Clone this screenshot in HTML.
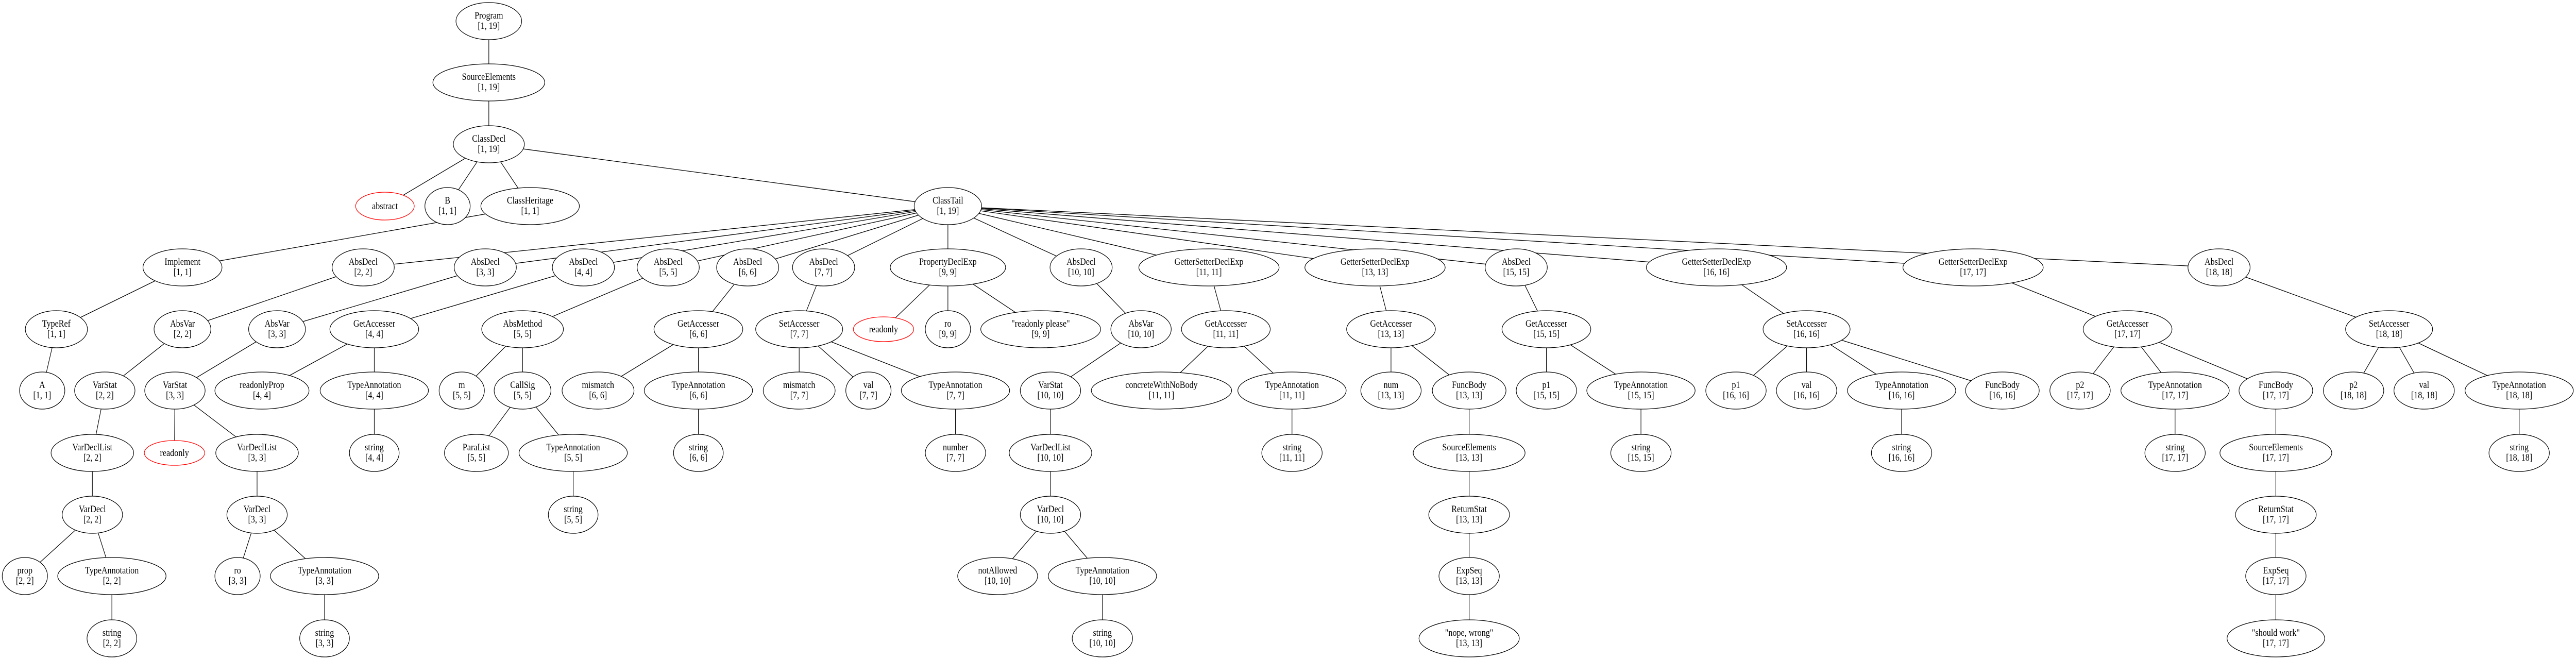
<!DOCTYPE html>
<html><head><meta charset="utf-8"><style>
html,body{margin:0;padding:0;background:#fff;width:100%;height:100%;overflow:hidden}
svg{display:block;position:absolute;left:0;top:0;width:100vw;height:100vh}
text{font-family:"Liberation Serif",serif;font-size:18.67px;text-anchor:middle;fill:#000}
ellipse{fill:#fff;stroke:#000;stroke-width:1.3}
ellipse.r{stroke:#f00}
line{stroke:#000;stroke-width:1.3}
</style></head><body>
<svg viewBox="0 0 5802 1279" preserveAspectRatio="none" xmlns="http://www.w3.org/2000/svg">
<g>
<line x1="1101" y1="41" x2="1101" y2="160"/>
<line x1="1101" y1="160" x2="1101" y2="280"/>
<line x1="1101" y1="280" x2="867" y2="400"/>
<line x1="1101" y1="280" x2="1008" y2="400"/>
<line x1="1101" y1="280" x2="1194" y2="400"/>
<line x1="1101" y1="280" x2="2135" y2="400"/>
<line x1="1194" y1="400" x2="411" y2="519"/>
<line x1="411" y1="519" x2="127" y2="639"/>
<line x1="127" y1="639" x2="95" y2="758"/>
<line x1="2135" y1="400" x2="818" y2="519"/>
<line x1="2135" y1="400" x2="1093" y2="519"/>
<line x1="2135" y1="400" x2="1314" y2="519"/>
<line x1="2135" y1="400" x2="1505" y2="519"/>
<line x1="2135" y1="400" x2="1684" y2="519"/>
<line x1="2135" y1="400" x2="1855" y2="519"/>
<line x1="2135" y1="400" x2="2135" y2="519"/>
<line x1="2135" y1="400" x2="2435" y2="519"/>
<line x1="2135" y1="400" x2="2723" y2="519"/>
<line x1="2135" y1="400" x2="3097" y2="519"/>
<line x1="2135" y1="400" x2="3415" y2="519"/>
<line x1="2135" y1="400" x2="3866" y2="519"/>
<line x1="2135" y1="400" x2="4444" y2="519"/>
<line x1="2135" y1="400" x2="4998" y2="519"/>
<line x1="818" y1="519" x2="411" y2="639"/>
<line x1="411" y1="639" x2="236" y2="758"/>
<line x1="236" y1="758" x2="208" y2="879"/>
<line x1="208" y1="879" x2="208" y2="999"/>
<line x1="208" y1="999" x2="56" y2="1118"/>
<line x1="208" y1="999" x2="252" y2="1118"/>
<line x1="252" y1="1118" x2="252" y2="1239"/>
<line x1="1093" y1="519" x2="624" y2="639"/>
<line x1="624" y1="639" x2="394" y2="758"/>
<line x1="394" y1="758" x2="393" y2="879"/>
<line x1="394" y1="758" x2="579" y2="879"/>
<line x1="579" y1="879" x2="579" y2="999"/>
<line x1="579" y1="999" x2="535" y2="1118"/>
<line x1="579" y1="999" x2="731" y2="1118"/>
<line x1="731" y1="1118" x2="731" y2="1239"/>
<line x1="1314" y1="519" x2="843" y2="639"/>
<line x1="843" y1="639" x2="590" y2="758"/>
<line x1="843" y1="639" x2="843" y2="758"/>
<line x1="843" y1="758" x2="843" y2="879"/>
<line x1="1505" y1="519" x2="1177" y2="639"/>
<line x1="1177" y1="639" x2="1040" y2="758"/>
<line x1="1177" y1="639" x2="1177" y2="758"/>
<line x1="1177" y1="758" x2="1073" y2="879"/>
<line x1="1177" y1="758" x2="1291" y2="879"/>
<line x1="1291" y1="879" x2="1291" y2="999"/>
<line x1="1684" y1="519" x2="1573" y2="639"/>
<line x1="1573" y1="639" x2="1347" y2="758"/>
<line x1="1573" y1="639" x2="1573" y2="758"/>
<line x1="1573" y1="758" x2="1573" y2="879"/>
<line x1="1855" y1="519" x2="1800" y2="639"/>
<line x1="1800" y1="639" x2="1800" y2="758"/>
<line x1="1800" y1="639" x2="1956" y2="758"/>
<line x1="1800" y1="639" x2="2152" y2="758"/>
<line x1="2152" y1="758" x2="2152" y2="879"/>
<line x1="2135" y1="519" x2="1990" y2="639"/>
<line x1="2135" y1="519" x2="2135" y2="639"/>
<line x1="2135" y1="519" x2="2344" y2="639"/>
<line x1="2435" y1="519" x2="2570" y2="639"/>
<line x1="2570" y1="639" x2="2366" y2="758"/>
<line x1="2366" y1="758" x2="2366" y2="879"/>
<line x1="2366" y1="879" x2="2366" y2="999"/>
<line x1="2366" y1="999" x2="2247" y2="1118"/>
<line x1="2366" y1="999" x2="2483" y2="1118"/>
<line x1="2483" y1="1118" x2="2483" y2="1239"/>
<line x1="2723" y1="519" x2="2761" y2="639"/>
<line x1="2761" y1="639" x2="2616" y2="758"/>
<line x1="2761" y1="639" x2="2910" y2="758"/>
<line x1="2910" y1="758" x2="2910" y2="879"/>
<line x1="3097" y1="519" x2="3133" y2="639"/>
<line x1="3133" y1="639" x2="3133" y2="758"/>
<line x1="3133" y1="639" x2="3309" y2="758"/>
<line x1="3309" y1="758" x2="3309" y2="1239"/>
<line x1="3415" y1="519" x2="3483" y2="639"/>
<line x1="3483" y1="639" x2="3483" y2="758"/>
<line x1="3483" y1="639" x2="3696" y2="758"/>
<line x1="3696" y1="758" x2="3696" y2="879"/>
<line x1="3866" y1="519" x2="4069" y2="639"/>
<line x1="4069" y1="639" x2="3910" y2="758"/>
<line x1="4069" y1="639" x2="4069" y2="758"/>
<line x1="4069" y1="639" x2="4283" y2="758"/>
<line x1="4069" y1="639" x2="4510" y2="758"/>
<line x1="4283" y1="758" x2="4283" y2="879"/>
<line x1="4444" y1="519" x2="4792" y2="639"/>
<line x1="4792" y1="639" x2="4685" y2="758"/>
<line x1="4792" y1="639" x2="4899" y2="758"/>
<line x1="4792" y1="639" x2="5126" y2="758"/>
<line x1="4899" y1="758" x2="4899" y2="879"/>
<line x1="5126" y1="758" x2="5126" y2="1239"/>
<line x1="4998" y1="519" x2="5381" y2="639"/>
<line x1="5381" y1="639" x2="5301" y2="758"/>
<line x1="5381" y1="639" x2="5460" y2="758"/>
<line x1="5381" y1="639" x2="5674" y2="758"/>
<line x1="5674" y1="758" x2="5674" y2="879"/>
</g>
<g>
<ellipse cx="1101" cy="41" rx="74" ry="36"/><text x="1101" y="36">Program</text><text x="1101" y="56">[1, 19]</text>
<ellipse cx="1101" cy="160" rx="126" ry="36"/><text x="1101" y="155">SourceElements</text><text x="1101" y="175">[1, 19]</text>
<ellipse cx="1101" cy="280" rx="80" ry="36"/><text x="1101" y="275">ClassDecl</text><text x="1101" y="295">[1, 19]</text>
<ellipse class="r" cx="867" cy="400" rx="66" ry="27"/><text x="867" y="406">abstract</text>
<ellipse cx="1008" cy="400" rx="51" ry="36"/><text x="1008" y="395">B</text><text x="1008" y="415">[1, 1]</text>
<ellipse cx="1194" cy="400" rx="111" ry="36"/><text x="1194" y="395">ClassHeritage</text><text x="1194" y="415">[1, 1]</text>
<ellipse cx="2135" cy="400" rx="76" ry="36"/><text x="2135" y="395">ClassTail</text><text x="2135" y="415">[1, 19]</text>
<ellipse cx="411" cy="519" rx="89" ry="36"/><text x="411" y="514">Implement</text><text x="411" y="534">[1, 1]</text>
<ellipse cx="818" cy="519" rx="70" ry="36"/><text x="818" y="514">AbsDecl</text><text x="818" y="534">[2, 2]</text>
<ellipse cx="1093" cy="519" rx="70" ry="36"/><text x="1093" y="514">AbsDecl</text><text x="1093" y="534">[3, 3]</text>
<ellipse cx="1314" cy="519" rx="70" ry="36"/><text x="1314" y="514">AbsDecl</text><text x="1314" y="534">[4, 4]</text>
<ellipse cx="1505" cy="519" rx="70" ry="36"/><text x="1505" y="514">AbsDecl</text><text x="1505" y="534">[5, 5]</text>
<ellipse cx="1684" cy="519" rx="70" ry="36"/><text x="1684" y="514">AbsDecl</text><text x="1684" y="534">[6, 6]</text>
<ellipse cx="1855" cy="519" rx="70" ry="36"/><text x="1855" y="514">AbsDecl</text><text x="1855" y="534">[7, 7]</text>
<ellipse cx="2135" cy="519" rx="130" ry="36"/><text x="2135" y="514">PropertyDeclExp</text><text x="2135" y="534">[9, 9]</text>
<ellipse cx="2435" cy="519" rx="70" ry="36"/><text x="2435" y="514">AbsDecl</text><text x="2435" y="534">[10, 10]</text>
<ellipse cx="2723" cy="519" rx="158" ry="36"/><text x="2723" y="514">GetterSetterDeclExp</text><text x="2723" y="534">[11, 11]</text>
<ellipse cx="3097" cy="519" rx="158" ry="36"/><text x="3097" y="514">GetterSetterDeclExp</text><text x="3097" y="534">[13, 13]</text>
<ellipse cx="3415" cy="519" rx="70" ry="36"/><text x="3415" y="514">AbsDecl</text><text x="3415" y="534">[15, 15]</text>
<ellipse cx="3866" cy="519" rx="158" ry="36"/><text x="3866" y="514">GetterSetterDeclExp</text><text x="3866" y="534">[16, 16]</text>
<ellipse cx="4444" cy="519" rx="158" ry="36"/><text x="4444" y="514">GetterSetterDeclExp</text><text x="4444" y="534">[17, 17]</text>
<ellipse cx="4998" cy="519" rx="70" ry="36"/><text x="4998" y="514">AbsDecl</text><text x="4998" y="534">[18, 18]</text>
<ellipse cx="127" cy="639" rx="70" ry="36"/><text x="127" y="634">TypeRef</text><text x="127" y="654">[1, 1]</text>
<ellipse cx="411" cy="639" rx="64" ry="36"/><text x="411" y="634">AbsVar</text><text x="411" y="654">[2, 2]</text>
<ellipse cx="624" cy="639" rx="64" ry="36"/><text x="624" y="634">AbsVar</text><text x="624" y="654">[3, 3]</text>
<ellipse cx="843" cy="639" rx="100" ry="36"/><text x="843" y="634">GetAccesser</text><text x="843" y="654">[4, 4]</text>
<ellipse cx="1177" cy="639" rx="92" ry="36"/><text x="1177" y="634">AbsMethod</text><text x="1177" y="654">[5, 5]</text>
<ellipse cx="1573" cy="639" rx="100" ry="36"/><text x="1573" y="634">GetAccesser</text><text x="1573" y="654">[6, 6]</text>
<ellipse cx="1800" cy="639" rx="98" ry="36"/><text x="1800" y="634">SetAccesser</text><text x="1800" y="654">[7, 7]</text>
<ellipse class="r" cx="1990" cy="639" rx="68" ry="24"/><text x="1990" y="645">readonly</text>
<ellipse cx="2135" cy="639" rx="51" ry="36"/><text x="2135" y="634">ro</text><text x="2135" y="654">[9, 9]</text>
<ellipse cx="2344" cy="639" rx="135" ry="36"/><text x="2344" y="634">"readonly please"</text><text x="2344" y="654">[9, 9]</text>
<ellipse cx="2570" cy="639" rx="68" ry="36"/><text x="2570" y="634">AbsVar</text><text x="2570" y="654">[10, 10]</text>
<ellipse cx="2761" cy="639" rx="100" ry="36"/><text x="2761" y="634">GetAccesser</text><text x="2761" y="654">[11, 11]</text>
<ellipse cx="3133" cy="639" rx="100" ry="36"/><text x="3133" y="634">GetAccesser</text><text x="3133" y="654">[13, 13]</text>
<ellipse cx="3483" cy="639" rx="100" ry="36"/><text x="3483" y="634">GetAccesser</text><text x="3483" y="654">[15, 15]</text>
<ellipse cx="4069" cy="639" rx="98" ry="36"/><text x="4069" y="634">SetAccesser</text><text x="4069" y="654">[16, 16]</text>
<ellipse cx="4792" cy="639" rx="100" ry="36"/><text x="4792" y="634">GetAccesser</text><text x="4792" y="654">[17, 17]</text>
<ellipse cx="5381" cy="639" rx="98" ry="36"/><text x="5381" y="634">SetAccesser</text><text x="5381" y="654">[18, 18]</text>
<ellipse cx="95" cy="758" rx="51" ry="36"/><text x="95" y="753">A</text><text x="95" y="773">[1, 1]</text>
<ellipse cx="236" cy="758" rx="68" ry="36"/><text x="236" y="753">VarStat</text><text x="236" y="773">[2, 2]</text>
<ellipse cx="394" cy="758" rx="68" ry="36"/><text x="394" y="753">VarStat</text><text x="394" y="773">[3, 3]</text>
<ellipse cx="590" cy="758" rx="106" ry="36"/><text x="590" y="753">readonlyProp</text><text x="590" y="773">[4, 4]</text>
<ellipse cx="843" cy="758" rx="122" ry="36"/><text x="843" y="753">TypeAnnotation</text><text x="843" y="773">[4, 4]</text>
<ellipse cx="1040" cy="758" rx="51" ry="36"/><text x="1040" y="753">m</text><text x="1040" y="773">[5, 5]</text>
<ellipse cx="1177" cy="758" rx="64" ry="36"/><text x="1177" y="753">CallSig</text><text x="1177" y="773">[5, 5]</text>
<ellipse cx="1347" cy="758" rx="81" ry="36"/><text x="1347" y="753">mismatch</text><text x="1347" y="773">[6, 6]</text>
<ellipse cx="1573" cy="758" rx="122" ry="36"/><text x="1573" y="753">TypeAnnotation</text><text x="1573" y="773">[6, 6]</text>
<ellipse cx="1800" cy="758" rx="81" ry="36"/><text x="1800" y="753">mismatch</text><text x="1800" y="773">[7, 7]</text>
<ellipse cx="1956" cy="758" rx="51" ry="36"/><text x="1956" y="753">val</text><text x="1956" y="773">[7, 7]</text>
<ellipse cx="2152" cy="758" rx="122" ry="36"/><text x="2152" y="753">TypeAnnotation</text><text x="2152" y="773">[7, 7]</text>
<ellipse cx="2366" cy="758" rx="68" ry="36"/><text x="2366" y="753">VarStat</text><text x="2366" y="773">[10, 10]</text>
<ellipse cx="2616" cy="758" rx="158" ry="36"/><text x="2616" y="753">concreteWithNoBody</text><text x="2616" y="773">[11, 11]</text>
<ellipse cx="2910" cy="758" rx="122" ry="36"/><text x="2910" y="753">TypeAnnotation</text><text x="2910" y="773">[11, 11]</text>
<ellipse cx="3133" cy="758" rx="68" ry="36"/><text x="3133" y="753">num</text><text x="3133" y="773">[13, 13]</text>
<ellipse cx="3309" cy="758" rx="83" ry="36"/><text x="3309" y="753">FuncBody</text><text x="3309" y="773">[13, 13]</text>
<ellipse cx="3483" cy="758" rx="68" ry="36"/><text x="3483" y="753">p1</text><text x="3483" y="773">[15, 15]</text>
<ellipse cx="3696" cy="758" rx="122" ry="36"/><text x="3696" y="753">TypeAnnotation</text><text x="3696" y="773">[15, 15]</text>
<ellipse cx="3910" cy="758" rx="68" ry="36"/><text x="3910" y="753">p1</text><text x="3910" y="773">[16, 16]</text>
<ellipse cx="4069" cy="758" rx="68" ry="36"/><text x="4069" y="753">val</text><text x="4069" y="773">[16, 16]</text>
<ellipse cx="4283" cy="758" rx="122" ry="36"/><text x="4283" y="753">TypeAnnotation</text><text x="4283" y="773">[16, 16]</text>
<ellipse cx="4510" cy="758" rx="83" ry="36"/><text x="4510" y="753">FuncBody</text><text x="4510" y="773">[16, 16]</text>
<ellipse cx="4685" cy="758" rx="68" ry="36"/><text x="4685" y="753">p2</text><text x="4685" y="773">[17, 17]</text>
<ellipse cx="4899" cy="758" rx="122" ry="36"/><text x="4899" y="753">TypeAnnotation</text><text x="4899" y="773">[17, 17]</text>
<ellipse cx="5126" cy="758" rx="83" ry="36"/><text x="5126" y="753">FuncBody</text><text x="5126" y="773">[17, 17]</text>
<ellipse cx="5301" cy="758" rx="68" ry="36"/><text x="5301" y="753">p2</text><text x="5301" y="773">[18, 18]</text>
<ellipse cx="5460" cy="758" rx="68" ry="36"/><text x="5460" y="753">val</text><text x="5460" y="773">[18, 18]</text>
<ellipse cx="5674" cy="758" rx="122" ry="36"/><text x="5674" y="753">TypeAnnotation</text><text x="5674" y="773">[18, 18]</text>
<ellipse cx="208" cy="879" rx="93" ry="36"/><text x="208" y="874">VarDeclList</text><text x="208" y="894">[2, 2]</text>
<ellipse class="r" cx="393" cy="879" rx="68" ry="24"/><text x="393" y="885">readonly</text>
<ellipse cx="579" cy="879" rx="93" ry="36"/><text x="579" y="874">VarDeclList</text><text x="579" y="894">[3, 3]</text>
<ellipse cx="843" cy="879" rx="56" ry="36"/><text x="843" y="874">string</text><text x="843" y="894">[4, 4]</text>
<ellipse cx="1073" cy="879" rx="72" ry="36"/><text x="1073" y="874">ParaList</text><text x="1073" y="894">[5, 5]</text>
<ellipse cx="1291" cy="879" rx="122" ry="36"/><text x="1291" y="874">TypeAnnotation</text><text x="1291" y="894">[5, 5]</text>
<ellipse cx="1573" cy="879" rx="56" ry="36"/><text x="1573" y="874">string</text><text x="1573" y="894">[6, 6]</text>
<ellipse cx="2152" cy="879" rx="68" ry="36"/><text x="2152" y="874">number</text><text x="2152" y="894">[7, 7]</text>
<ellipse cx="2366" cy="879" rx="93" ry="36"/><text x="2366" y="874">VarDeclList</text><text x="2366" y="894">[10, 10]</text>
<ellipse cx="2910" cy="879" rx="68" ry="36"/><text x="2910" y="874">string</text><text x="2910" y="894">[11, 11]</text>
<ellipse cx="3309" cy="879" rx="126" ry="36"/><text x="3309" y="874">SourceElements</text><text x="3309" y="894">[13, 13]</text>
<ellipse cx="3696" cy="879" rx="68" ry="36"/><text x="3696" y="874">string</text><text x="3696" y="894">[15, 15]</text>
<ellipse cx="4283" cy="879" rx="68" ry="36"/><text x="4283" y="874">string</text><text x="4283" y="894">[16, 16]</text>
<ellipse cx="4899" cy="879" rx="68" ry="36"/><text x="4899" y="874">string</text><text x="4899" y="894">[17, 17]</text>
<ellipse cx="5126" cy="879" rx="126" ry="36"/><text x="5126" y="874">SourceElements</text><text x="5126" y="894">[17, 17]</text>
<ellipse cx="5674" cy="879" rx="68" ry="36"/><text x="5674" y="874">string</text><text x="5674" y="894">[18, 18]</text>
<ellipse cx="208" cy="999" rx="68" ry="36"/><text x="208" y="994">VarDecl</text><text x="208" y="1014">[2, 2]</text>
<ellipse cx="579" cy="999" rx="68" ry="36"/><text x="579" y="994">VarDecl</text><text x="579" y="1014">[3, 3]</text>
<ellipse cx="1291" cy="999" rx="56" ry="36"/><text x="1291" y="994">string</text><text x="1291" y="1014">[5, 5]</text>
<ellipse cx="2366" cy="999" rx="68" ry="36"/><text x="2366" y="994">VarDecl</text><text x="2366" y="1014">[10, 10]</text>
<ellipse cx="3309" cy="999" rx="91" ry="36"/><text x="3309" y="994">ReturnStat</text><text x="3309" y="1014">[13, 13]</text>
<ellipse cx="5126" cy="999" rx="91" ry="36"/><text x="5126" y="994">ReturnStat</text><text x="5126" y="1014">[17, 17]</text>
<ellipse cx="56" cy="1118" rx="51" ry="36"/><text x="56" y="1113">prop</text><text x="56" y="1133">[2, 2]</text>
<ellipse cx="252" cy="1118" rx="122" ry="36"/><text x="252" y="1113">TypeAnnotation</text><text x="252" y="1133">[2, 2]</text>
<ellipse cx="535" cy="1118" rx="51" ry="36"/><text x="535" y="1113">ro</text><text x="535" y="1133">[3, 3]</text>
<ellipse cx="731" cy="1118" rx="122" ry="36"/><text x="731" y="1113">TypeAnnotation</text><text x="731" y="1133">[3, 3]</text>
<ellipse cx="2247" cy="1118" rx="90" ry="36"/><text x="2247" y="1113">notAllowed</text><text x="2247" y="1133">[10, 10]</text>
<ellipse cx="2483" cy="1118" rx="122" ry="36"/><text x="2483" y="1113">TypeAnnotation</text><text x="2483" y="1133">[10, 10]</text>
<ellipse cx="3309" cy="1118" rx="68" ry="36"/><text x="3309" y="1113">ExpSeq</text><text x="3309" y="1133">[13, 13]</text>
<ellipse cx="5126" cy="1118" rx="68" ry="36"/><text x="5126" y="1113">ExpSeq</text><text x="5126" y="1133">[17, 17]</text>
<ellipse cx="252" cy="1239" rx="56" ry="36"/><text x="252" y="1234">string</text><text x="252" y="1254">[2, 2]</text>
<ellipse cx="731" cy="1239" rx="56" ry="36"/><text x="731" y="1234">string</text><text x="731" y="1254">[3, 3]</text>
<ellipse cx="2483" cy="1239" rx="68" ry="36"/><text x="2483" y="1234">string</text><text x="2483" y="1254">[10, 10]</text>
<ellipse cx="3309" cy="1239" rx="113" ry="36"/><text x="3309" y="1234">"nope, wrong"</text><text x="3309" y="1254">[13, 13]</text>
<ellipse cx="5126" cy="1239" rx="110" ry="36"/><text x="5126" y="1234">"should work"</text><text x="5126" y="1254">[17, 17]</text>
</g>
</svg>
</body></html>
